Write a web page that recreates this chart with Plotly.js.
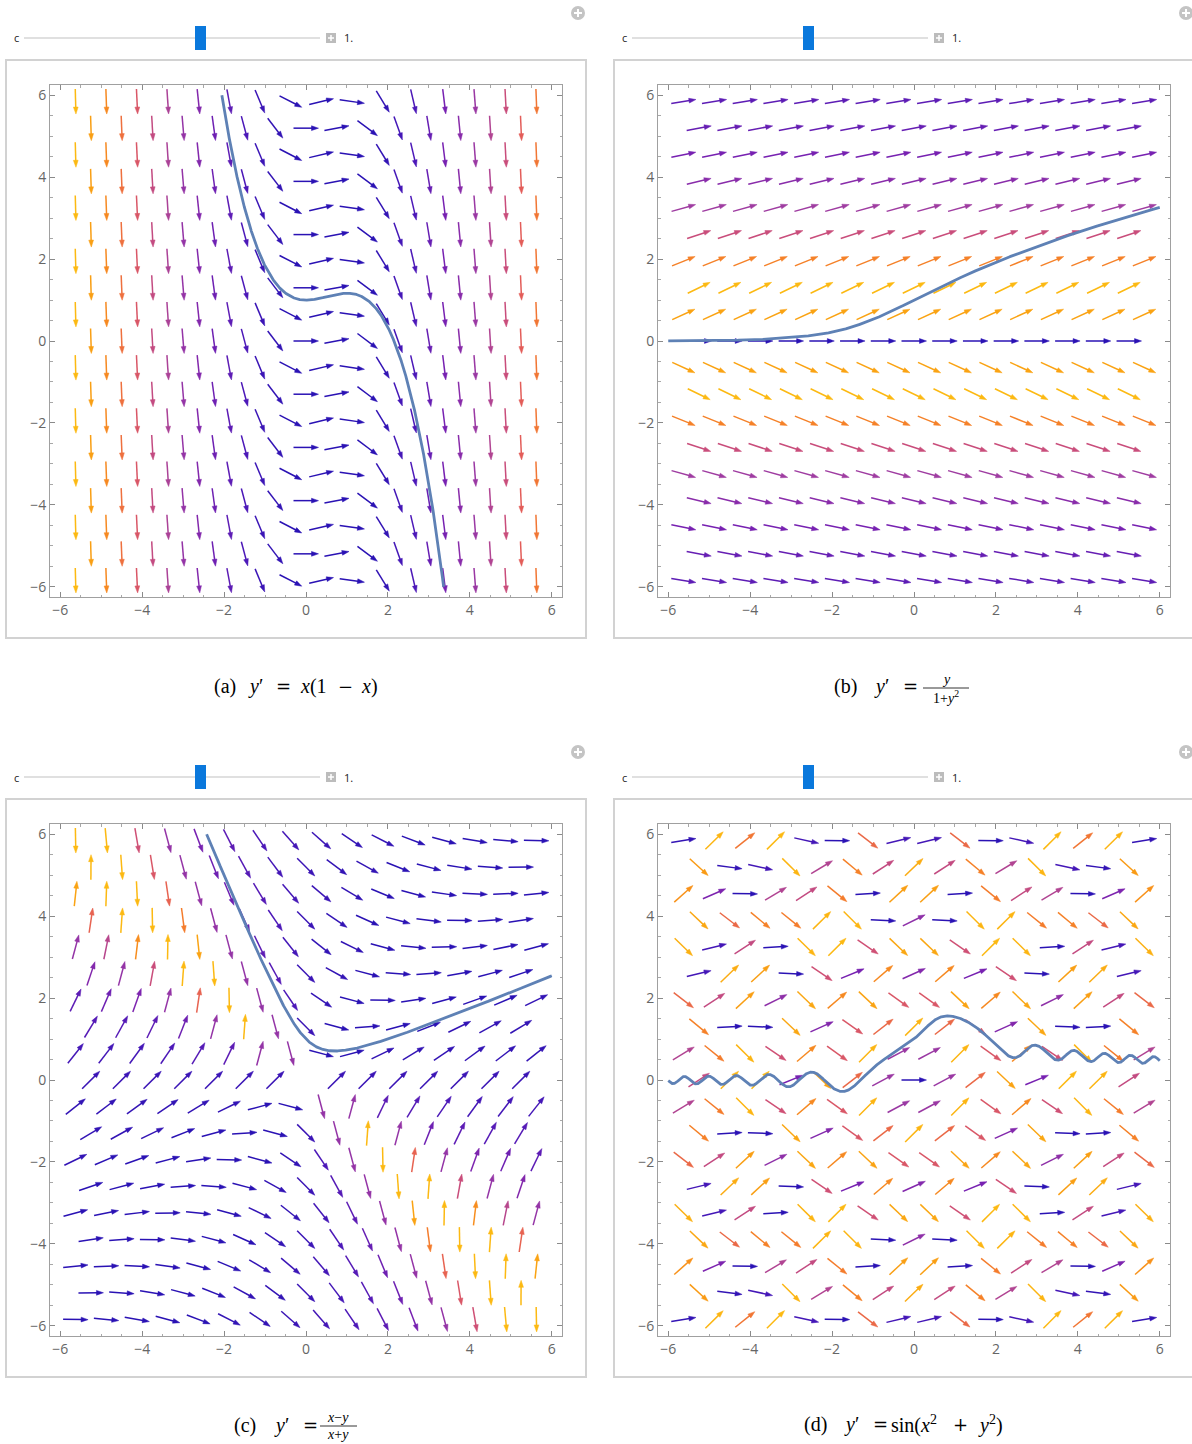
<!DOCTYPE html>
<html><head><meta charset="utf-8">
<script src="https://cdn.plot.ly/plotly-3.0.1.min.js"></script>
<style>body{margin:0;background:#fff}#chart{width:1192px;height:1444px}</style>
</head><body><div id="chart"></div>
<script>
// ---------- data ----------
const colsEven=[-5.625,-4.875,-4.125,-3.375,-2.625,-1.875,-1.125,-0.375,0.375,1.125,1.875,2.625,3.375,4.125,4.875,5.625];
const colsOdd=[-5.25,-4.5,-3.75,-3,-2.25,-1.5,-0.75,0,0.75,1.5,2.25,3,3.75,4.5,5.25];
const rowsY=[5.8457,5.1962,4.5466,3.8971,3.2476,2.5981,1.9486,1.299,0.6495,0,-0.6495,-1.299,-1.9486,-2.5981,-3.2476,-3.8971,-4.5466,-5.1962,-5.8457];
const tickVals=[-6,-4,-2,0,2,4,6];
const minorTickVals=[-5.5,-5,-4.5,-3.5,-3,-2.5,-1.5,-1,-0.5,0.5,1,1.5,2.5,3,3.5,4.5,5,5.5];
const sliderValue=1;       // c (initial value y(0)=c)
const initialX=0;
const axisRange=[-6.25,6.25];
const plotRange=[-6,6];
const colorStops=[[0,'#2a12b4'],[0.08,'#4a18b8'],[0.2,'#7a22b0'],[0.35,'#a23ea0'],[0.5,'#cc4e78'],[0.6,'#e45e58'],[0.7,'#f47c2c'],[0.85,'#f99a14'],[1,'#fcb912']];
const colorMaxC=10.5; // colour scale clipping for panel (c)

const slopes=[
  (x,y)=>x*(1-x),
  (x,y)=>y/(1+y*y),
  (x,y)=>(x-y)/(x+y),
  (x,y)=>Math.sin(x*x+y*y)
];
const colorMax=[null,null,colorMaxC,null];

// ---------- layout geometry (px) ----------
const W=1192,H=1444;
const X=p=>p/W, Y=p=>1-p/H;
const plotBoxes=[[50,85,562,597],[658,85,1170,597],[50,824,562,1336],[658,824,1170,1336]];
const outerBoxes=[[6,60,586,638],[614,60,1200,638],[6,799,586,1377],[614,799,1200,1377]];
const offs=[[0,0],[608,0],[0,739],[608,739]];
const pxPerUnit=512/12.5;

function hex2rgb(h){return [1,3,5].map(i=>parseInt(h.substr(i,2),16));}
function colorAt(t){
  t=Math.max(0,Math.min(1,t));
  for(let i=1;i<colorStops.length;i++){
    if(t<=colorStops[i][0]){
      const [t0,c0]=colorStops[i-1],[t1,c1]=colorStops[i];
      const a=hex2rgb(c0),b=hex2rgb(c1),u=(t-t0)/(t1-t0);
      return 'rgb('+a.map((v,k)=>Math.round(v+(b[k]-v)*u)).join(',')+')';
    }
  }
  return colorStops[colorStops.length-1][1];
}

function solve(f,x0,y0,xmin,xmax,h){
  function run(dir){
    const xs=[x0],ys=[y0];let x=x0,y=y0;const s=h*dir;
    while((dir>0?x<xmax-1e-9:x>xmin+1e-9)&&Math.abs(y)<25){
      const k1=f(x,y),k2=f(x+s/2,y+s*k1/2),k3=f(x+s/2,y+s*k2/2),k4=f(x+s,y+s*k3);
      y+=s*(k1+2*k2+2*k3+k4)/6;x+=s;
      if(!isFinite(y))break;
      xs.push(x);ys.push(y);
    }
    return [xs,ys];
  }
  const [fx,fy]=run(1),[bx,by]=run(-1);
  const xs=bx.slice(1).reverse().concat(fx),ys=by.slice(1).reverse().concat(fy);
  return [xs,ys.map(v=>(v<plotRange[0]||v>plotRange[1])?null:v)];
}

const traces=[],shapes=[],annotations=[];
const layout={width:W,height:H,margin:{l:0,r:0,t:0,b:0},paper_bgcolor:'#fff',plot_bgcolor:'#fff',showlegend:false,
  font:{family:'Liberation Serif',color:'#000'}};

const NB=48;
const L=25/pxPerUnit, HL=7/pxPerUnit, HW=2.4/pxPerUnit;

slopes.forEach((f,p)=>{
  const xa='x'+(p?p+1:''), ya='y'+(p?p+1:'');
  const [l,t,r,b]=plotBoxes[p];
  const axBase={range:axisRange,tickvals:tickVals,ticks:'inside',ticklen:5,tickwidth:1,tickcolor:'#8a8a8a',
    showline:true,linecolor:'#a0a0a0',linewidth:1,mirror:'allticks',showgrid:false,zeroline:false,fixedrange:true,
    tickfont:{family:'Open Sans',size:14,color:'#666'},
    minor:{tickvals:minorTickVals,ticks:'inside',ticklen:2.5,tickwidth:1,tickcolor:'#a8a8a8'}};
  layout['xaxis'+(p?p+1:'')]=Object.assign({},axBase,{domain:[X(l),X(r)],anchor:ya});
  layout['yaxis'+(p?p+1:'')]=Object.assign({},axBase,{domain:[Y(b),Y(t)],anchor:xa});

  // arrows
  const arrows=[];
  rowsY.forEach((yv,i)=>{
    (i%2===0?colsEven:colsOdd).forEach(xv=>{
      const s=f(xv,yv); if(!isFinite(s))return;
      arrows.push({x:xv,y:yv,s,m:Math.sqrt(1+s*s)});
    });
  });
  const mn=Math.min(...arrows.map(a=>a.m));
  let mx=Math.max(...arrows.map(a=>a.m)); if(colorMax[p]) mx=Math.min(mx,colorMax[p]);
  const bins=[];for(let k=0;k<NB;k++)bins.push({sx:[],sy:[],hx:[],hy:[]});
  arrows.forEach(a=>{
    const n=Math.sqrt(1+a.s*a.s), dx=1/n, dy=a.s/n;
    const tx=a.x-dx*L/2, ty=a.y-dy*L/2, px=a.x+dx*L/2, py=a.y+dy*L/2;
    const bx=px-dx*HL, by=py-dy*HL;
    const k=Math.round(Math.max(0,Math.min(1,(a.m-mn)/(mx-mn)))*(NB-1));
    const B=bins[k];
    B.sx.push(tx,bx+dx*HL*0.3,null);B.sy.push(ty,by+dy*HL*0.3,null);
    B.hx.push(px,bx-dy*HW,bx+dy*HW,px,null);B.hy.push(py,by+dx*HW,by-dx*HW,py,null);
  });
  bins.forEach((B,k)=>{
    if(!B.sx.length)return;
    const c=colorAt(k/(NB-1));
    traces.push({type:'scatter',mode:'lines',x:B.sx,y:B.sy,xaxis:xa,yaxis:ya,line:{color:c,width:1.5},hoverinfo:'skip'});
    traces.push({type:'scatter',mode:'lines',x:B.hx,y:B.hy,xaxis:xa,yaxis:ya,fill:'toself',fillcolor:c,line:{color:c,width:0.5},hoverinfo:'skip'});
  });
  // solution curve
  const [cx,cy]=solve(f,initialX,sliderValue,plotRange[0],plotRange[1],0.002);
  traces.push({type:'scatter',mode:'lines',x:cx,y:cy,xaxis:xa,yaxis:ya,line:{color:'#5e81b5',width:2.8},connectgaps:false,hoverinfo:'skip'});

  // outer frame
  const ob=outerBoxes[p];
  shapes.push({type:'rect',xref:'paper',yref:'paper',x0:X(ob[0]),x1:X(ob[2]),y0:Y(ob[3]),y1:Y(ob[1]),line:{color:'#d2d2d2',width:2},layer:'below'});
  // slider
  const [ox,oy]=offs[p];
  shapes.push({type:'rect',xref:'paper',yref:'paper',x0:X(24+ox),x1:X(320+ox),y0:Y(39+oy),y1:Y(37+oy),line:{width:0},fillcolor:'#e0e0e0'});
  shapes.push({type:'rect',xref:'paper',yref:'paper',x0:X(195+ox),x1:X(206+ox),y0:Y(50+oy),y1:Y(26+oy),line:{width:0},fillcolor:'#0a78dc'});
  shapes.push({type:'rect',xref:'paper',yref:'paper',x0:X(326+ox),x1:X(336+ox),y0:Y(43+oy),y1:Y(33+oy),line:{width:0},fillcolor:'#bcbcbc'});
  shapes.push({type:'line',xref:'paper',yref:'paper',x0:X(328+ox),x1:X(334+ox),y0:Y(38+oy),y1:Y(38+oy),line:{color:'#fff',width:1.5}});
  shapes.push({type:'line',xref:'paper',yref:'paper',x0:X(331+ox),x1:X(331+ox),y0:Y(35+oy),y1:Y(41+oy),line:{color:'#fff',width:1.5}});
  shapes.push({type:'circle',xref:'paper',yref:'paper',x0:X(571+ox),x1:X(585+ox),y0:Y(20+oy),y1:Y(6+oy),line:{width:0},fillcolor:'#c4c4c4'});
  shapes.push({type:'line',xref:'paper',yref:'paper',x0:X(574+ox),x1:X(582+ox),y0:Y(13+oy),y1:Y(13+oy),line:{color:'#fff',width:2}});
  shapes.push({type:'line',xref:'paper',yref:'paper',x0:X(578+ox),x1:X(578+ox),y0:Y(9+oy),y1:Y(17+oy),line:{color:'#fff',width:2}});
  annotations.push({xref:'paper',yref:'paper',x:X(16+ox),y:Y(38+oy),text:'c',showarrow:false,xanchor:'center',yanchor:'middle',font:{family:'Open Sans',size:11,color:'#222'}});
  annotations.push({xref:'paper',yref:'paper',x:X(342+ox),y:Y(38+oy),text:sliderValue.toFixed(0)+'.',showarrow:false,xanchor:'left',yanchor:'middle',font:{family:'Open Sans',size:11,color:'#222'}});
});

// captions (pieces placed like LaTeX math spacing)
const capFont={family:'Liberation Serif',size:20,color:'#000'};
const eqFont={family:'DejaVu Serif',size:18,color:'#000'};
const smallFont={family:'Liberation Serif',size:14,color:'#000'};
function ann(x,y,text,font,xa){annotations.push({xref:'paper',yref:'paper',x:X(x),y:Y(y),text,showarrow:false,xanchor:xa||'left',yanchor:'middle',font});}
// (a)
ann(212,687,'(a)',capFont); ann(246,687,'<i>y</i>′',capFont); ann(274,687,'=',eqFont);
ann(298,687,'<i>x</i>(1',capFont); ann(336,687,'−',eqFont); ann(359,687,'<i>x</i>)',capFont);
// (b)
ann(832,687,'(b)',capFont); ann(872,687,'<i>y</i>′',capFont); ann(901,687,'=',eqFont);
ann(946,679,'<i>y</i>',smallFont,'center');
shapes.push({type:'line',xref:'paper',yref:'paper',x0:X(923),x1:X(969),y0:Y(688),y1:Y(688),line:{color:'#000',width:0.8}});
ann(946,697,'1+<i>y</i><sup>2</sup>',smallFont,'center');
// (c)
ann(232,1425,'(c)',capFont); ann(272,1425,'<i>y</i>′',capFont); ann(301,1425,'=',eqFont);
ann(338,1417,'<i>x</i>−<i>y</i>',smallFont,'center');
shapes.push({type:'line',xref:'paper',yref:'paper',x0:X(320),x1:X(357),y0:Y(1426),y1:Y(1426),line:{color:'#000',width:0.8}});
ann(338,1434,'<i>x</i>+<i>y</i>',smallFont,'center');
// (d)
ann(802,1424,'(d)',capFont); ann(842,1424,'<i>y</i>′',capFont); ann(871,1424,'=',eqFont);
ann(889,1424,'sin(<i>x</i><sup>2</sup>',capFont); ann(951,1424,'+',eqFont); ann(976,1424,'<i>y</i><sup>2</sup>)',capFont);

layout.shapes=shapes;layout.annotations=annotations;
Plotly.newPlot('chart',traces,layout,{displayModeBar:false,staticPlot:true});
</script></body></html>
